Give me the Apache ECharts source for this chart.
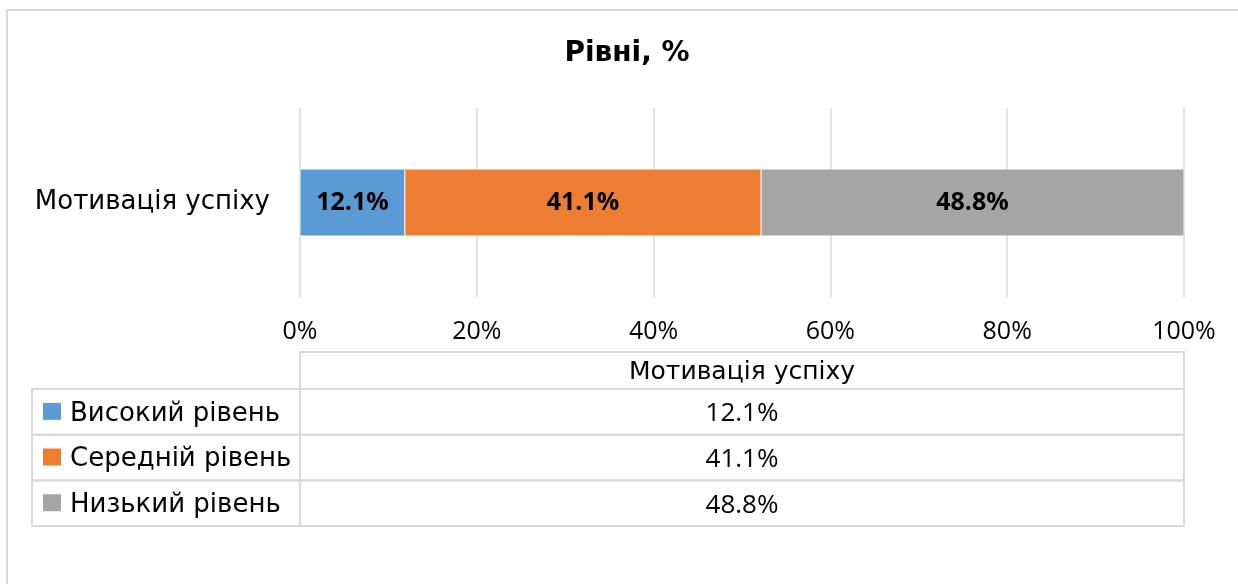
<!DOCTYPE html>
<html>
<head>
<meta charset="utf-8">
<script src="https://cdn.jsdelivr.net/npm/echarts@6/dist/echarts.min.js"></script>
<style>
  html, body { margin: 0; padding: 0; background: #fff; }
  #chart { width: 1238px; height: 584px; }
</style>
</head>
<body>
<div id="chart"></div>
<script>
// data
var categories = ['Мотивація успіху'];
var seriesNames = ['Високий рівень', 'Середній рівень', 'Низький рівень'];
var seriesColors = ['#5B9BD5', '#ED7D31', '#A5A5A5'];
var highLevel = [12.1];
var midLevel = [41.1];
var lowLevel = [48.8];
var xTicks = [0, 20, 40, 60, 80, 100];

var rawData = [highLevel, midLevel, lowLevel];
// 100% stacked: each bar is share of the category total
var totals = categories.map(function (c, i) {
  return rawData.reduce(function (s, arr) { return s + arr[i]; }, 0);
});

var chart = echarts.init(document.getElementById('chart'));

var option = {
  animation: false,
  title: {
    text: 'Рівні, %',
    left: 622,
    textAlign: 'center',
    top: 35,
    textStyle: { fontFamily: 'DejaVu Sans', fontWeight: 'bold', fontSize: 28, color: '#000' }
  },
  grid: { left: 300, right: 54, top: 108, bottom: 287 },
  xAxis: {
    type: 'value',
    min: xTicks[0],
    max: xTicks[xTicks.length - 1],
    interval: 20,
    axisLine: { show: false },
    axisTick: { show: false },
    splitLine: { lineStyle: { color: '#d9d9d9', width: 1.5 } },
    axisLabel: {
      formatter: '{value}%',
      margin: 22,
      fontFamily: 'Open Sans',
      fontSize: 25,
      color: '#000'
    }
  },
  yAxis: {
    type: 'category',
    data: categories,
    axisLine: { show: false },
    axisTick: { show: false },
    axisLabel: { margin: 30, fontFamily: 'DejaVu Sans', fontSize: 26, color: '#000' }
  },
  series: seriesNames.map(function (name, k) {
    return {
      name: name,
      type: 'bar',
      stack: 'total',
      barWidth: 67,
      itemStyle: { color: seriesColors[k], borderColor: '#fff', borderWidth: 0.5 },
      label: {
        show: true,
        position: 'inside',
        fontFamily: 'Open Sans',
        fontWeight: 'bold',
        fontSize: 25,
        color: '#000',
        formatter: function (p) { return rawData[k][p.dataIndex].toFixed(1) + '%'; }
      },
      data: rawData[k].map(function (v, i) { return v / totals[i] * 100; })
    };
  })
};
chart.setOption(option);

// data table under the chart
var x0 = chart.convertToPixel({ xAxisIndex: 0 }, xTicks[0]);
var x1 = chart.convertToPixel({ xAxisIndex: 0 }, xTicks[xTicks.length - 1]);
var tableLeft = 32;
var headTop = 352;
var rowH = 45.7;
var headH = 37;
var els = [];

// outer frame
els.push({ type: 'rect', shape: { x: 7, y: 10, width: 1400, height: 800 },
  style: { fill: null, stroke: '#d9d9d9', lineWidth: 2 }, silent: true });

// header cell
els.push({ type: 'rect', shape: { x: x0, y: headTop, width: x1 - x0, height: headH }, style: { fill: null, stroke: '#d9d9d9', lineWidth: 2 } });
els.push({ type: 'text', x: (x0 + x1) / 2, y: headTop + headH / 2 + 2,
  style: { text: categories[0], fontFamily: 'DejaVu Sans', fontSize: 25, fill: '#000', align: 'center', verticalAlign: 'middle' } });

seriesNames.forEach(function (name, k) {
  var top = headTop + headH + k * rowH;
  els.push({ type: 'rect', shape: { x: tableLeft, y: top, width: x0 - tableLeft, height: rowH }, style: { fill: null, stroke: '#d9d9d9', lineWidth: 2 } });
  els.push({ type: 'rect', shape: { x: x0, y: top, width: x1 - x0, height: rowH }, style: { fill: null, stroke: '#d9d9d9', lineWidth: 2 } });
  els.push({ type: 'rect', shape: { x: 43, y: top + rowH / 2 - 9, width: 18, height: 17 }, style: { fill: seriesColors[k] } });
  els.push({ type: 'text', x: 70, y: top + rowH / 2 + 2,
    style: { text: name, fontFamily: 'DejaVu Sans', fontSize: 26, fill: '#000', align: 'left', verticalAlign: 'middle' } });
  categories.forEach(function (c, i) {
    els.push({ type: 'text', x: (x0 + x1) / 2, y: top + rowH / 2 + 2,
      style: { text: rawData[k][i].toFixed(1) + '%', fontFamily: 'Open Sans', fontSize: 26, fill: '#000', align: 'center', verticalAlign: 'middle' } });
  });
});

chart.setOption({ graphic: { elements: els } });
</script>
</body>
</html>
